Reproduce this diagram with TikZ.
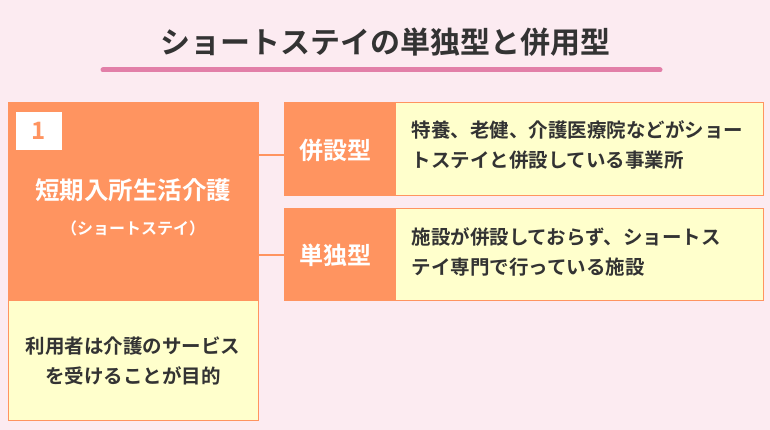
\documentclass[tikz,border=0pt]{standalone}
\usepackage{fontspec}
\setmainfont{Noto Sans CJK JP}[BoldFont={* Bold}]
\usetikzlibrary{positioning}
\definecolor{bgpink}{HTML}{FCEBF1}
\definecolor{linepink}{HTML}{E27FA8}
\definecolor{orng}{HTML}{FF9460}
\definecolor{lyellow}{HTML}{FFFFCC}
\definecolor{txt}{HTML}{333333}
\tikzset{
    head/.style={fill=orng, draw=orng, text=white, font=\bfseries\fontsize{24}{28}\selectfont},
    note/.style={fill=lyellow, draw=orng, text=txt, font=\bfseries\fontsize{19.5}{30}\selectfont},
    link/.style={draw=orng, line width=2pt}
}
\begin{document}
\begin{tikzpicture}[x=1pt, y=-1pt]
	\fill[bgpink] (0,0) rectangle (770,430);
	\useasboundingbox (0,0) rectangle (770,430);
	\node (title) [text=txt, font=\bfseries\fontsize{30}{34}\selectfont] at (385,42) {ショートステイの単独型と併用型};
	\draw[linepink, line width=5pt, line cap=round] (103,70) -- (660,70);

	% left column
	\path[head] (8,102) rectangle (258,300);
	\node (main) [text=white, font=\bfseries\fontsize{24.5}{28}\selectfont] at (133,190) {短期入所生活介護};
	\node (sub) [below=12pt of main, text=white, font=\bfseries\fontsize{16}{18}\selectfont] {（ショートステイ）};
	\path[fill=white] (16,112) rectangle (62,150);
	\node (num) [text=orng, font=\bfseries\fontsize{24}{28}\selectfont] at (39,131) {1};
	\path[note] (8,300) rectangle (258,420);
	\node (goal) [text=txt, align=center, font=\bfseries\fontsize{19.5}{30}\selectfont] at (133,361) {利用者は介護のサービス\\を受けることが目的};

	% right column
	\path[head] (284,102) rectangle (395,195);
	\node (heisetsu) [text=white, font=\bfseries\fontsize{24}{28}\selectfont] at (335,150) {併設型};
	\path[note] (395,102) rectangle (763,195);
	\node (heisetsuText) [text=txt, align=left, anchor=west, font=\bfseries\fontsize{19.5}{30}\selectfont] at (408,145) {特養、老健、介護医療院などがショー\\トステイと併設している事業所};

	\path[head] (284,208) rectangle (395,300);
	\node (tandoku) [text=white, font=\bfseries\fontsize{24}{28}\selectfont] at (335,255) {単独型};
	\path[note] (395,208) rectangle (763,300);
	\node (tandokuText) [text=txt, align=left, anchor=west, font=\bfseries\fontsize{19.5}{30}\selectfont] at (408,252) {施設が併設しておらず、ショートス\\テイ専門で行っている施設};

	\coordinate (a1) at (258,155); \coordinate (b1) at (284,155);
	\coordinate (a2) at (258,255); \coordinate (b2) at (284,255);
	\draw[link] (a1) -- (b1);
	\draw[link] (a2) -- (b2);
\end{tikzpicture}
\end{document}
